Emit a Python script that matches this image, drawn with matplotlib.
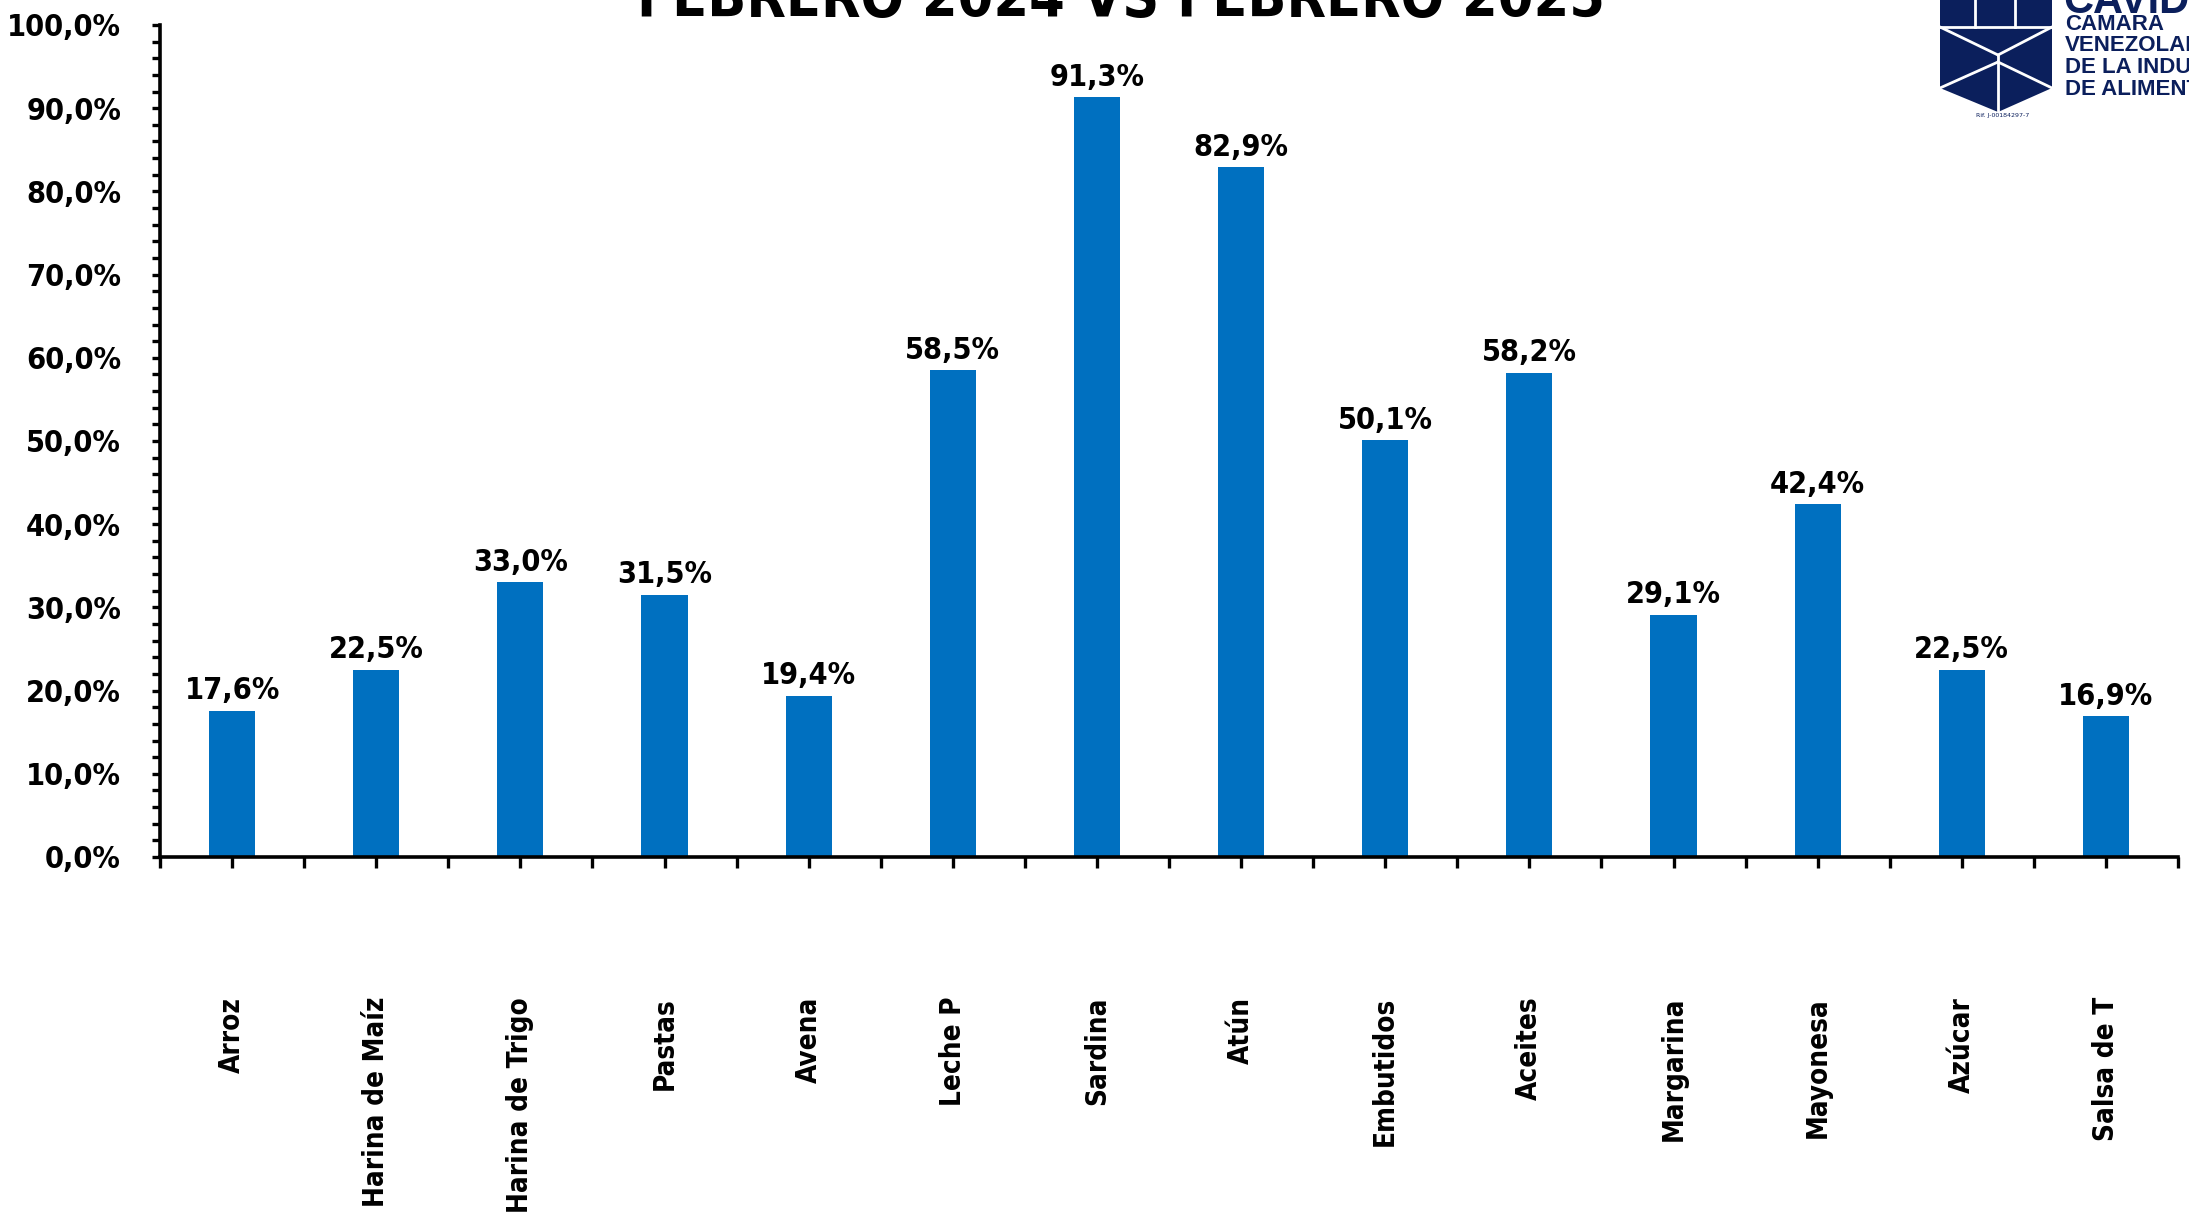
import matplotlib
matplotlib.use("Agg")
import matplotlib.pyplot as plt
from matplotlib import font_manager as fm
from matplotlib.patches import Polygon
from matplotlib.lines import Line2D
from matplotlib.ticker import FixedLocator, MultipleLocator, FuncFormatter

# Data
categories = ["Arroz", "Harina de Maíz", "Harina de Trigo", "Pastas", "Avena",
              "Leche P", "Sardina", "Atún", "Embutidos", "Aceites", "Margarina",
              "Mayonesa", "Azúcar", "Salsa de T"]
values = [17.6, 22.5, 33.0, 31.5, 19.4, 58.5, 91.3, 82.9, 50.1, 58.2, 29.1, 42.4, 22.5, 16.9]
title = "FEBRERO 2024 VS FEBRERO 2025"

W, H = 2189, 1223
BAR = "#0070C0"
NAVY = "#0B1F5C"


def narrow_font():
    """Look for a condensed bold face; fall back to Roboto."""
    best = None
    for f in fm.fontManager.ttflist:
        name = f.name.lower()
        narrow = ("narrow" in name or "condensed" in name
                  or str(f.stretch) in ("condensed", "semi-condensed", "extra-condensed"))
        if narrow and f.weight in ("bold", 700, "heavy", 800, 900):
            return fm.FontProperties(fname=f.fname), True
        if narrow and best is None:
            best = f
    if best is not None:
        return fm.FontProperties(fname=best.fname, weight="bold"), True
    return fm.FontProperties(family=["Roboto", "DejaVu Sans"], weight="bold"), False


FP, IS_NARROW = narrow_font()
K = 1.0 if IS_NARROW else 0.9   # shrink when no condensed face exists


def fp(size):
    p = FP.copy()
    p.set_size(size)
    return p


def px(x, y):
    return (x / W, 1 - y / H)


fig = plt.figure(figsize=(W / 100, H / 100), dpi=100)
ax = fig.add_axes([160 / W, 1 - 857 / H, (2178 - 160) / W, (857 - 25) / H])

x = list(range(len(categories)))
ax.bar(x, values, width=0.32, color=BAR, zorder=2)
for xi, v in zip(x, values):
    ax.annotate(f"{v:.1f}%".replace(".", ","), (xi, v), xytext=(0, 4),
                textcoords="offset points", ha="center", va="bottom",
                fontproperties=fp(22 * K))

ax.set_xlim(-0.5, len(categories) - 0.5)
ax.set_ylim(0, 100)

ax.xaxis.set_major_locator(FixedLocator([i - 0.5 for i in range(len(categories) + 1)]))
ax.xaxis.set_minor_locator(FixedLocator(x))
ax.xaxis.set_major_formatter(FuncFormatter(lambda v, p: ""))
ax.tick_params(axis="x", which="both", direction="out", length=8, width=2.4)

ax.yaxis.set_major_locator(MultipleLocator(10))
ax.yaxis.set_minor_locator(MultipleLocator(2))
ax.yaxis.set_major_formatter(FuncFormatter(lambda v, p: f"{v:.1f}%".replace(".", ",")))
ax.tick_params(axis="y", which="both", direction="out", length=6, width=2.4)
ax.tick_params(axis="y", which="major", pad=22)
for lab in ax.get_yticklabels():
    lab.set_fontproperties(fp(22 * K))

for s in ["top", "right"]:
    ax.spines[s].set_visible(False)
for s in ["left", "bottom"]:
    ax.spines[s].set_linewidth(2.6)

# category labels, rotated
for xi, c in zip(x, categories):
    ax.text(xi, -16.8, c, rotation=90, ha="center", va="top",
            fontproperties=fp(20 * K), clip_on=False)

# title (cropped at the top in the reference)
fig.text(1121 / W, 1 - 17 / H, title, ha="center", va="baseline",
         fontproperties=fp(41 * K))

# logo
cube = Polygon([px(1940, -5), px(2052, -5), px(2052, 88), px(1998, 112), px(1940, 88)],
               closed=True, transform=fig.transFigure, facecolor=NAVY, edgecolor="none")
fig.add_artist(cube)
for seg in [[(1940, 27), (2052, 27)], [(1975, -5), (1975, 27)], [(2015, -5), (2015, 27)],
            [(1940, 27), (1998, 55)], [(2052, 27), (1998, 55)], [(1998, 55), (1998, 112)],
            [(1940, 88), (1998, 62)], [(1998, 62), (2052, 88)]]:
    (x0, y0), (x1, y1) = seg
    fig.add_artist(Line2D([x0 / W, x1 / W], [1 - y0 / H, 1 - y1 / H],
                          transform=fig.transFigure, color="white", lw=2))
fig.text(2063 / W, 1 - 13 / H, "CAVIDEA", color=NAVY, fontsize=30, fontweight="bold",
         family="Liberation Sans", va="baseline")
for yy, t in [(30, "CAMARA"), (51, "VENEZOLANA"), (73, "DE LA INDUSTRIA"), (95, "DE ALIMENTOS")]:
    fig.text(2065 / W, 1 - yy / H, t, color=NAVY, fontsize=16, fontweight="bold",
             family="Liberation Sans", va="baseline")
fig.text(2003 / W, 1 - 116 / H, "Rif. J-00184297-7", color=NAVY, fontsize=4.5,
         ha="center", va="center")

fig.savefig("out.png", dpi=100)
